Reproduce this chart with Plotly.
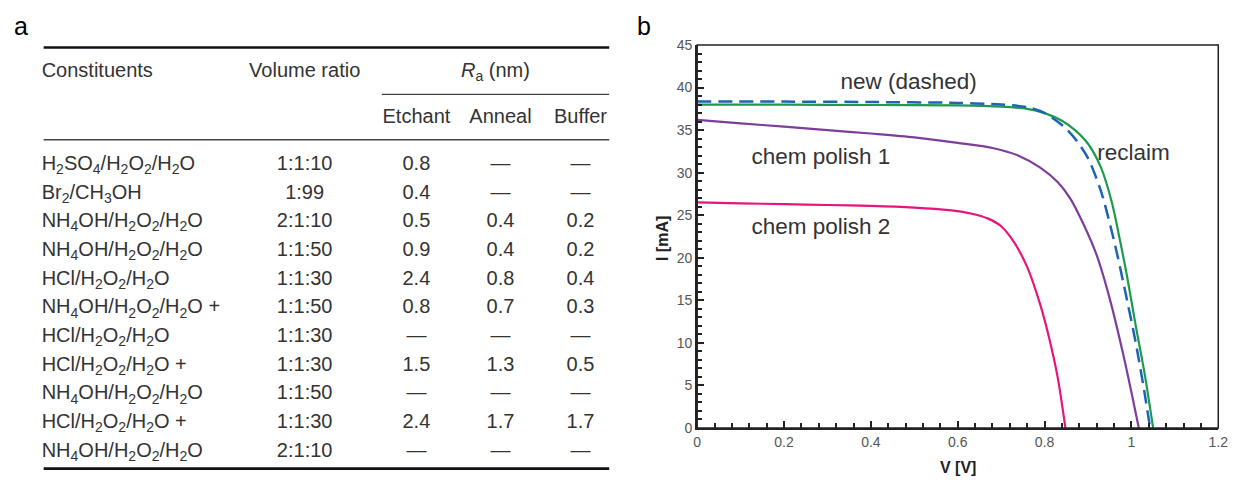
import plotly.graph_objects as go

# ---------------- data: panel b (I-V curves) ----------------
reclaim_v = [0, 0.2, 0.4, 0.6, 0.7, 0.76, 0.8, 0.84, 0.87, 0.9, 0.93, 0.955, 0.975, 0.99, 1.01, 1.03, 1.05]
reclaim_i = [38.0, 38.0, 37.95, 37.9, 37.75, 37.5, 37.0, 36.1, 35.0, 33.4, 30.6, 26.5, 21.7, 17.8, 12.0, 6.5, 0]

new_v = [0, 0.2, 0.4, 0.6, 0.7, 0.76, 0.8, 0.84, 0.87, 0.9, 0.93, 0.96, 0.99, 1.01, 1.03, 1.043]
new_i = [38.35, 38.35, 38.3, 38.2, 38.0, 37.7, 37.0, 35.6, 34.0, 31.7, 27.8, 22.0, 15.0, 10.0, 4.2, 0]

cp1_v = [0, 0.1, 0.2, 0.3, 0.4, 0.5, 0.6, 0.68, 0.74, 0.79, 0.83, 0.86, 0.89, 0.92, 0.95, 0.98, 1.0, 1.017]
cp1_i = [36.2, 35.8, 35.4, 35.0, 34.6, 34.15, 33.5, 32.9, 32.0, 30.6, 28.9, 26.9, 23.9, 20.3, 15.2, 8.9, 4.2, 0]

cp2_v = [0, 0.1, 0.2, 0.3, 0.4, 0.5, 0.58, 0.63, 0.67, 0.7, 0.73, 0.76, 0.79, 0.81, 0.83, 0.848]
cp2_i = [26.5, 26.4, 26.3, 26.2, 26.1, 25.9, 25.6, 25.2, 24.6, 23.7, 21.8, 18.9, 14.5, 10.7, 6.0, 0]

curve_labels = ["new (dashed)", "reclaim", "chem polish 1", "chem polish 2"]
curve_label_v = [0.487, 1.005, 0.285, 0.285]
curve_label_i = [40.5, 32.2, 31.7, 23.5]

# ---------------- data: panel a (table) ----------------
constituents = [
    "H<sub>2</sub>SO<sub>4</sub>/H<sub>2</sub>O<sub>2</sub>/H<sub>2</sub>O",
    "Br<sub>2</sub>/CH<sub>3</sub>OH",
    "NH<sub>4</sub>OH/H<sub>2</sub>O<sub>2</sub>/H<sub>2</sub>O",
    "NH<sub>4</sub>OH/H<sub>2</sub>O<sub>2</sub>/H<sub>2</sub>O",
    "HCl/H<sub>2</sub>O<sub>2</sub>/H<sub>2</sub>O",
    "NH<sub>4</sub>OH/H<sub>2</sub>O<sub>2</sub>/H<sub>2</sub>O +",
    "HCl/H<sub>2</sub>O<sub>2</sub>/H<sub>2</sub>O",
    "HCl/H<sub>2</sub>O<sub>2</sub>/H<sub>2</sub>O +",
    "NH<sub>4</sub>OH/H<sub>2</sub>O<sub>2</sub>/H<sub>2</sub>O",
    "HCl/H<sub>2</sub>O<sub>2</sub>/H<sub>2</sub>O +",
    "NH<sub>4</sub>OH/H<sub>2</sub>O<sub>2</sub>/H<sub>2</sub>O",
]
volume_ratio = ["1:1:10", "1:99", "2:1:10", "1:1:50", "1:1:30", "1:1:50", "1:1:30", "1:1:30", "1:1:50", "1:1:30", "2:1:10"]
ra_etchant = ["0.8", "0.4", "0.5", "0.9", "2.4", "0.8", "—", "1.5", "—", "2.4", "—"]
ra_anneal = ["—", "—", "0.4", "0.4", "0.8", "0.7", "—", "1.3", "—", "1.7", "—"]
ra_buffer = ["—", "—", "0.2", "0.2", "0.4", "0.3", "—", "0.5", "—", "1.7", "—"]

header1 = ["Constituents", "Volume ratio", "<i>R</i><sub>a</sub> (nm)"]
header2 = ["Etchant", "Anneal", "Buffer"]

# ---------------- layout constants ----------------
W, H = 1244, 486
OFF = 8  # the page places the figure 8 px from the window's top-left corner
TXT = "#333333"
FONT = "Liberation Sans, Arial, Helvetica, sans-serif"


def px(x):
    return (x - OFF) / W


def py(y):
    return 1 - (y - OFF) / H


row0, row_step = 162.0, 29.65
rows_y = [row0 + k * row_step for k in range(len(constituents))]
col_const_x, col_vol_x = 38, 304
col_ra_x = [417, 502, 583]

fig = go.Figure()

# ----- panel b curves -----
fig.add_trace(go.Scatter(x=reclaim_v, y=reclaim_i, mode="lines", name="reclaim",
                         line=dict(color="#1c9a4e", width=2.2, shape="spline", smoothing=0.8)))
fig.add_trace(go.Scatter(x=new_v, y=new_i, mode="lines", name="new",
                         line=dict(color="#1d63b6", width=2.5, dash="14px,7px", shape="spline", smoothing=0.8)))
fig.add_trace(go.Scatter(x=cp1_v, y=cp1_i, mode="lines", name="chem polish 1",
                         line=dict(color="#7e3d9b", width=2.2, shape="spline", smoothing=0.8)))
fig.add_trace(go.Scatter(x=cp2_v, y=cp2_i, mode="lines", name="chem polish 2",
                         line=dict(color="#e8137c", width=2.2, shape="spline", smoothing=0.8)))
fig.add_trace(go.Scatter(x=curve_label_v, y=curve_label_i, mode="text", text=curve_labels,
                         textposition="middle center", textfont=dict(size=22.5, color=TXT, family=FONT),
                         hoverinfo="skip"))

# ----- panel a table (text traces on a hidden pixel-scaled axis pair) -----
tfont = dict(size=20, color=TXT, family=FONT)
fig.add_trace(go.Scatter(x=[col_const_x] * len(constituents), y=rows_y, text=constituents,
                         mode="text", textposition="middle right", textfont=tfont,
                         xaxis="x2", yaxis="y2", hoverinfo="skip"))
fig.add_trace(go.Scatter(x=[col_vol_x] * len(volume_ratio), y=rows_y, text=volume_ratio,
                         mode="text", textposition="middle center", textfont=tfont,
                         xaxis="x2", yaxis="y2", hoverinfo="skip"))
for cx, col in zip(col_ra_x, [ra_etchant, ra_anneal, ra_buffer]):
    fig.add_trace(go.Scatter(x=[cx] * len(col), y=rows_y, text=col,
                             mode="text", textposition="middle center", textfont=tfont,
                             xaxis="x2", yaxis="y2", hoverinfo="skip"))
# headers
fig.add_trace(go.Scatter(x=[col_const_x], y=[66], text=[header1[0]], mode="text",
                         textposition="middle right", textfont=tfont, xaxis="x2", yaxis="y2", hoverinfo="skip"))
fig.add_trace(go.Scatter(x=[col_vol_x, 497], y=[66, 66], text=header1[1:], mode="text",
                         textposition="middle center", textfont=tfont, xaxis="x2", yaxis="y2", hoverinfo="skip"))
fig.add_trace(go.Scatter(x=col_ra_x, y=[113] * 3, text=header2, mode="text",
                         textposition="middle center", textfont=tfont, xaxis="x2", yaxis="y2", hoverinfo="skip"))

shapes = [
    dict(type="line", xref="x2", yref="y2", x0=40, x1=612, y0=40.5, y1=40.5, line=dict(color="#111", width=2.6)),
    dict(type="line", xref="x2", yref="y2", x0=382, x1=612, y0=89, y1=89, line=dict(color="#444", width=1.4)),
    dict(type="line", xref="x2", yref="y2", x0=40, x1=612, y0=136, y1=136, line=dict(color="#444", width=1.4)),
    dict(type="line", xref="x2", yref="y2", x0=40, x1=612, y0=476, y1=476, line=dict(color="#111", width=2.6)),
    dict(type="rect", xref="x domain", yref="y domain", x0=0, x1=1, y0=0, y1=1,
         line=dict(color="#222", width=1.5), layer="above"),
]

ann_common = dict(xref="paper", yref="paper", showarrow=False, xanchor="center", yanchor="middle")
annotations = [
    dict(text="a", x=px(17), y=py(18), font=dict(size=25, color="#000", family=FONT), **ann_common),
    dict(text="b", x=px(647), y=py(18), font=dict(size=25, color="#000", family=FONT), **ann_common),
    dict(text="<b>I [mA]</b>", x=px(666), y=py(238), textangle=-90,
         font=dict(size=16, color="#222", family=FONT), **ann_common),
    dict(text="<b>V [V]</b>", x=px(965), y=py(475),
         font=dict(size=16, color="#222", family=FONT), **ann_common),
]

axis_common = dict(showgrid=False, zeroline=False, showline=True, linewidth=2, linecolor="#222",
                   ticks="inside", ticklen=7, tickwidth=2, tickcolor="#222",
                   tickfont=dict(size=14, color="#555", family=FONT))

fig.update_layout(
    width=W, height=H, margin=dict(l=0, r=0, t=0, b=0),
    paper_bgcolor="white", plot_bgcolor="white", showlegend=False,
    font=dict(family=FONT, color=TXT),
    xaxis=dict(domain=[px(701), px(1228)], range=[0, 1.2], tick0=0, dtick=0.2, anchor="y",
               minor=dict(ticks="inside", dtick=0.04, ticklen=5, tickwidth=1.5, tickcolor="#222", showgrid=False),
               **axis_common),
    yaxis=dict(domain=[py(434), py(38)], range=[0, 45], tick0=0, dtick=5, anchor="x",
               minor=dict(ticks="inside", dtick=1, ticklen=5, tickwidth=1.5, tickcolor="#222", showgrid=False),
               **axis_common),
    # table axes measured in window pixels
    xaxis2=dict(domain=[0, 622 / W], range=[OFF, OFF + 622], visible=False, anchor="y2"),
    yaxis2=dict(domain=[0, 1], range=[OFF + H, OFF], visible=False, anchor="x2"),
    shapes=shapes, annotations=annotations,
)

fig.write_html("out.html")
